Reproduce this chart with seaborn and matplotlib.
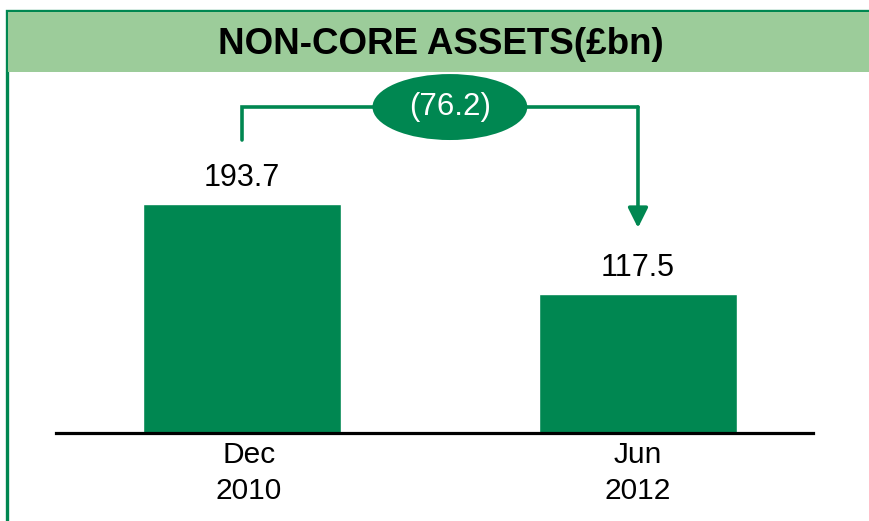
import matplotlib
matplotlib.use('Agg')
import matplotlib.pyplot as plt
import matplotlib.transforms as mtransforms
from matplotlib.patches import Ellipse, Rectangle
import seaborn as sns
import pandas as pd

periods = ["Dec\n2010", "Jun\n2012"]
assets = [193.7, 117.5]
title = "NON-CORE ASSETS(£bn)"

green = "#008751"
light_green = "#9ccc9a"

sns.set_style("white")
plt.rcParams['font.family'] = ['Liberation Sans', 'DejaVu Sans']

df = pd.DataFrame({"period": periods, "assets": assets})

fig = plt.figure(figsize=(8.7, 5.21), dpi=100)

# frame + header band (figure pixels, origin bottom-left)
W, H = 870, 521
fig.patches.append(Rectangle((7 / W, -0.2), 1.2, (H - 10.5) / H + 0.2, transform=fig.transFigure,
                             facecolor="white", edgecolor=green, linewidth=2.4, zorder=0))
fig.patches.append(Rectangle((8.5 / W, (H - 72) / H), 1.2, 60 / H, transform=fig.transFigure,
                             facecolor=light_green, edgecolor="none", zorder=0.5))
fig.text(441 / W, (H - 44) / H, title, ha="center", va="center", fontsize=26.5,
         fontweight="bold", color="black")

ax = fig.add_axes([56 / W, 88 / H, 757 / W, 358 / H])
ax.set_zorder(2)
ax.set_facecolor("none")
sns.barplot(data=df, x="period", y="assets", color=green, width=0.5, saturation=1, ax=ax)

ax.set_xlim(-0.4697, 1.442)
ax.set_ylim(0, 302.8)
ax.set_xlabel("")
ax.set_ylabel("")
ax.set_yticks([])
for s in ["top", "right", "left"]:
    ax.spines[s].set_visible(False)
ax.spines["bottom"].set_color("black")
ax.spines["bottom"].set_linewidth(2.3)
ax.tick_params(axis="x", length=0, pad=6, labelsize=21.5, labelcolor="black")
for lbl in ax.get_xticklabels():
    lbl.set_linespacing(1.35)
# the first label sits a little right of its bar in the original
dec_lbl = ax.get_xticklabels()[0]
dec_lbl.set_transform(dec_lbl.get_transform() +
                      mtransforms.ScaledTranslation(7 / 100, 0, fig.dpi_scale_trans))

for i, v in enumerate(assets):
    ax.text(i, v + 15.5, f"{v:.1f}", ha="center", va="baseline", fontsize=22, color="black")

# bracket with arrow showing the reduction
top = max(assets) + 82
ax.plot([0, 0, 1, 1], [assets[0] + 54, top, top, top], color=green, lw=2.6,
        solid_joinstyle="miter", clip_on=False)
ax.annotate("", xy=(1, assets[1] + 56), xytext=(1, top),
            arrowprops=dict(arrowstyle="-|>", color=green, lw=2.6, mutation_scale=30,
                            shrinkA=0, shrinkB=0))
ax.add_patch(Ellipse((0.525, top), 0.391, 55.8, facecolor=green, edgecolor="none",
                     clip_on=False, zorder=5))
ax.text(0.525, top, f"({assets[0] - assets[1]:.1f})", ha="center", va="center",
        fontsize=22.5, color="white", zorder=6)

fig.savefig("out.png", dpi=100)
